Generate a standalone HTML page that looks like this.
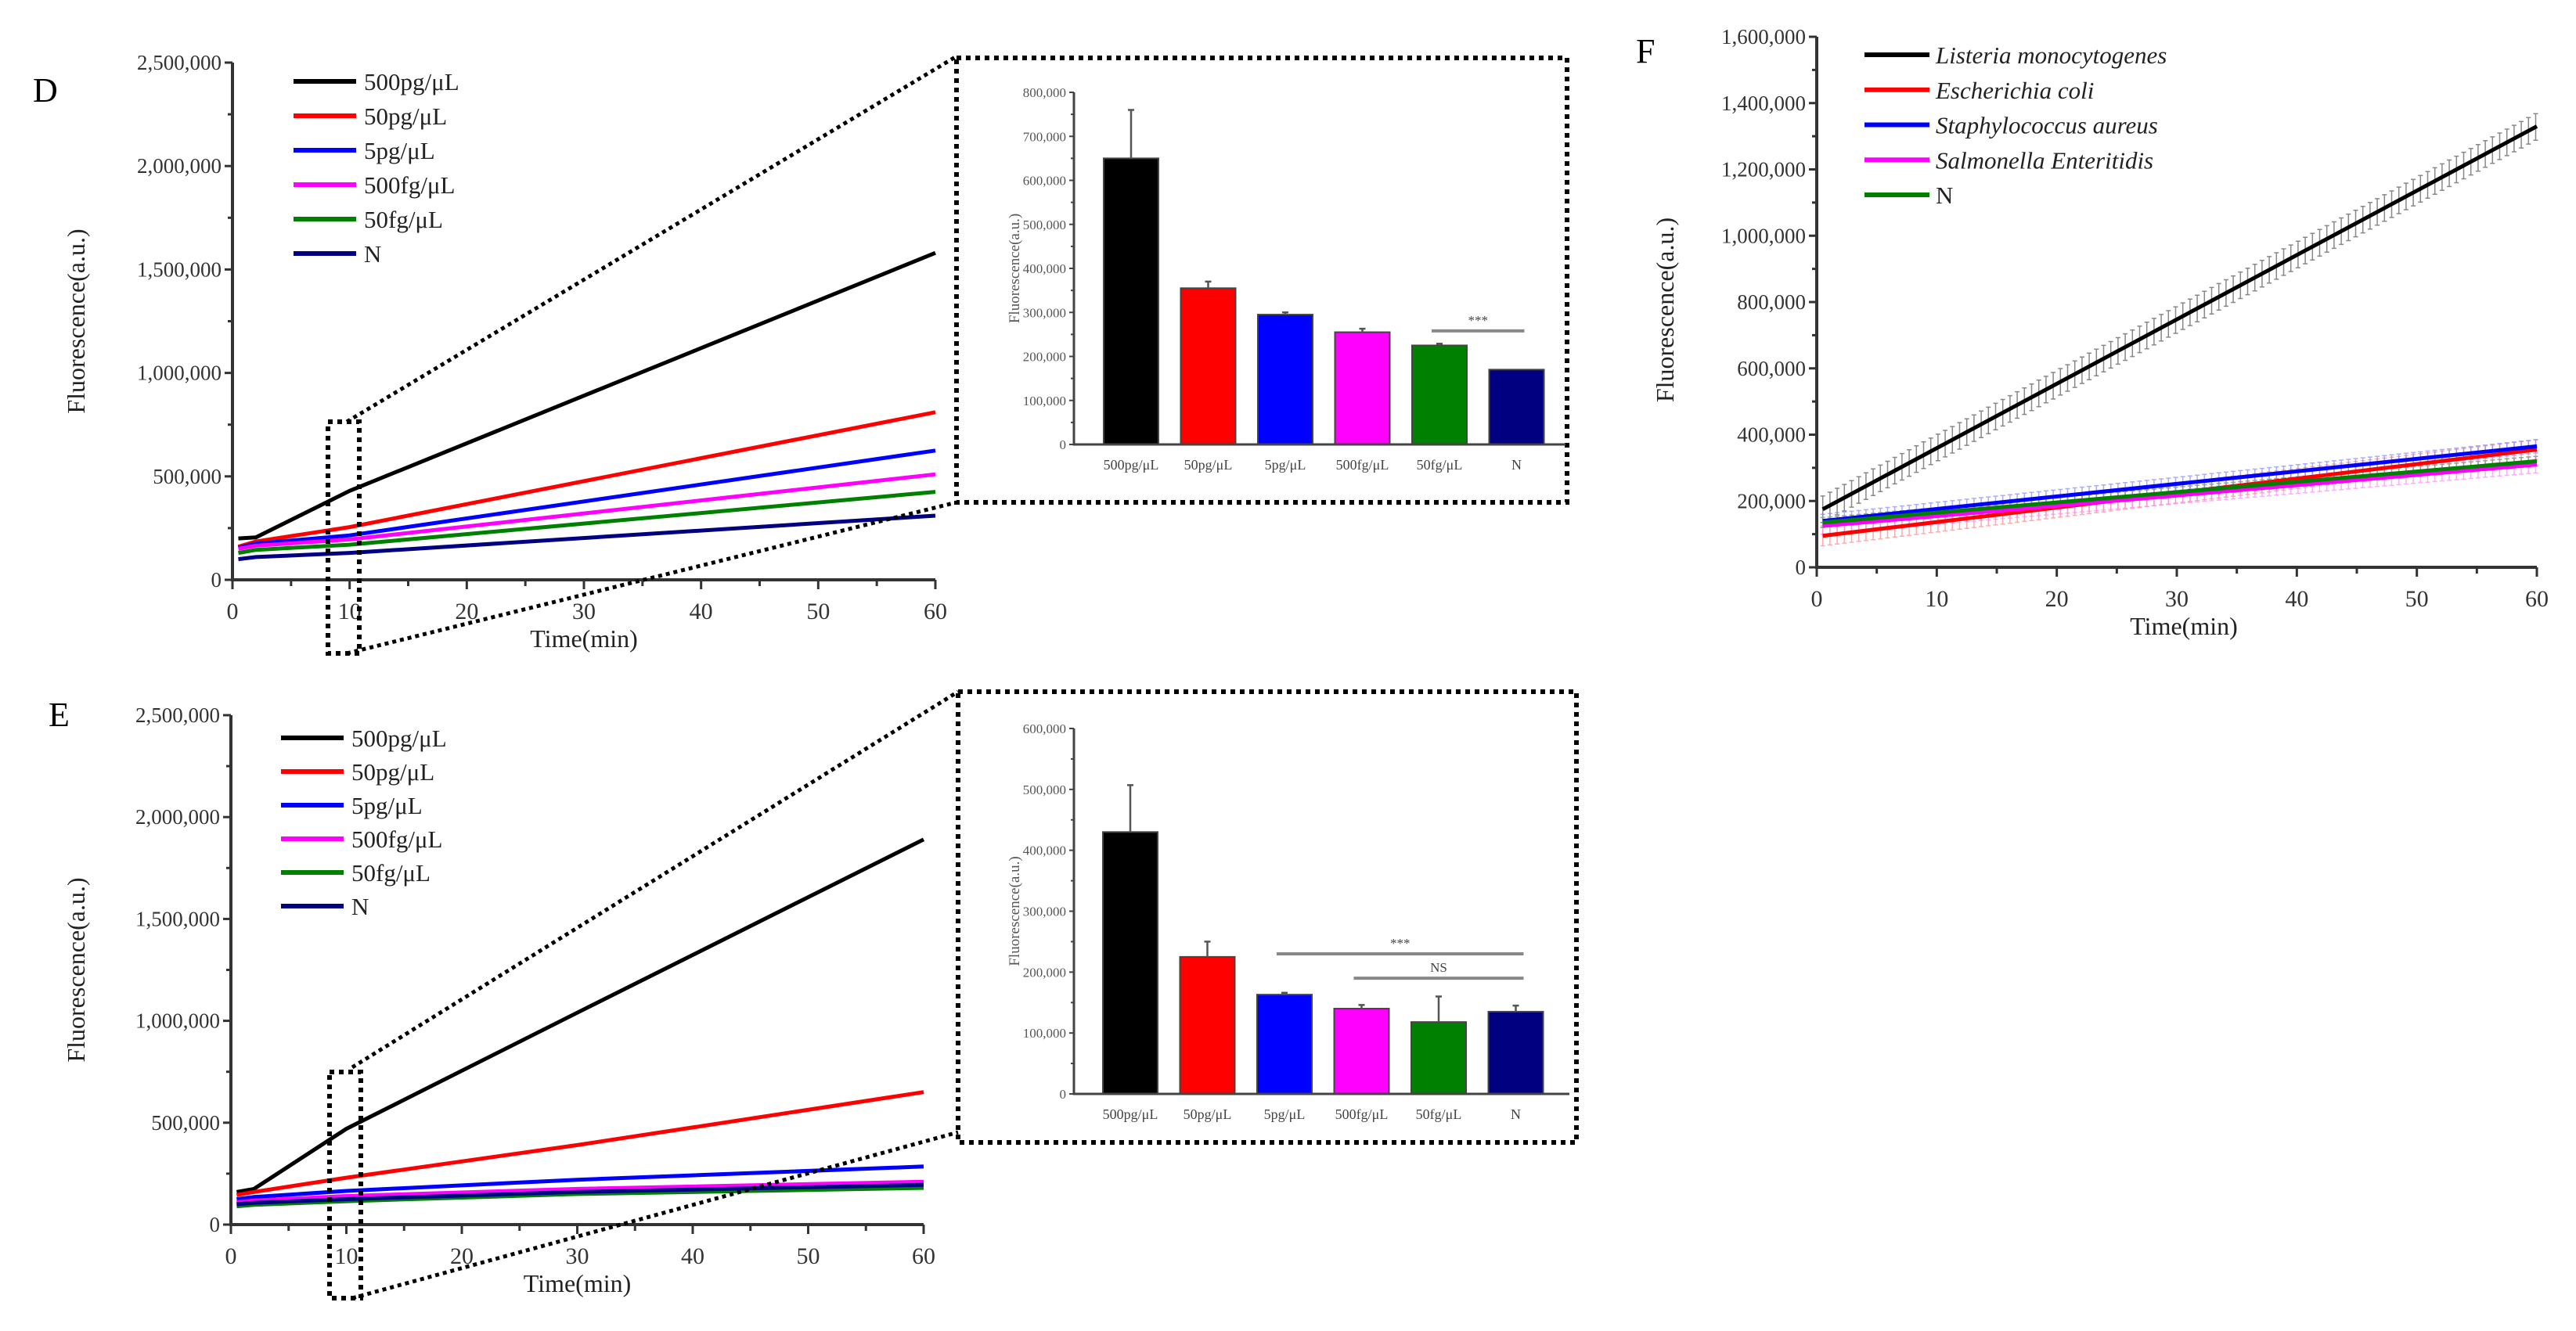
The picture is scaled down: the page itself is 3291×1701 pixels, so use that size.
<!DOCTYPE html>
<html><head><meta charset="utf-8"><style>
html,body{margin:0;padding:0;background:#fff;}
svg{display:block;font-family:"Liberation Serif",serif;}
</style></head><body>
<svg id="fig" width="3291" height="1701" viewBox="0 0 3291 1701" xmlns="http://www.w3.org/2000/svg">
<rect width="3291" height="1701" fill="#fff"/>
<text x="42" y="130" font-size="44">D</text>
<text x="62" y="928" font-size="44">E</text>
<text x="2090" y="80" font-size="44">F</text>
</svg>
<script>
const seriesNames = ["500pg/μL","50pg/μL","5pg/μL","500fg/μL","50fg/μL","N"];
const seriesColors = ["#000","#f00","#00f","#f0f","#008000","#000080"];
const timeTicks = [0,10,20,30,40,50,60];
const yTicksDE = [0,500000,1000000,1500000,2000000,2500000];
// D line chart
const dTimes = [0.5,2,10,60];
const dBlack = [200000,205000,430000,1580000];
const dRed = [160000,185000,255000,810000];
const dBlue = [155000,175000,215000,625000];
const dMagenta = [150000,165000,195000,510000];
const dGreen = [130000,145000,170000,425000];
const dNavy = [100000,110000,130000,310000];
// E line chart
const eTimes = [0.5,2,10,30,60];
const eBlack = [160000,175000,470000,1040000,1890000];
const eRed = [145000,160000,230000,390000,650000];
const eBlue = [125000,135000,165000,220000,285000];
const eMagenta = [110000,118000,140000,175000,210000];
const eGreen = [90000,97000,115000,150000,180000];
const eNavy = [100000,107000,125000,160000,195000];
// D inset bars
const dBarValues = [650000,355000,295000,255000,225000,170000];
const dBarErr = [110000,15000,5000,8000,4000,0];
const dBarTicks = [0,100000,200000,300000,400000,500000,600000,700000,800000];
// E inset bars
const eBarValues = [430000,225000,163000,140000,118000,135000];
const eBarErr = [77000,25000,3000,6000,42000,10000];
const eBarTicks = [0,100000,200000,300000,400000,500000,600000];
// F
const fNames = ["Listeria monocytogenes","Escherichia coli","Staphylococcus aureus","Salmonella Enteritidis","N"];
const fColors = ["#000","#f00","#00f","#f0f","#008000"];
const fStart = [175000,95000,140000,125000,135000];
const fEnd = [1330000,355000,365000,310000,320000];
const fErr = [40000,30000,20000,25000,15000];
const fTicks = [0,200000,400000,600000,800000,1000000,1200000,1400000,1600000];

const NS="http://www.w3.org/2000/svg";
const svg=document.getElementById('fig');
function el(tag,attrs,parent,txt){const e=document.createElementNS(NS,tag);for(const k in attrs)e.setAttribute(k,attrs[k]);if(txt!==undefined)e.textContent=txt;(parent||svg).appendChild(e);return e;}
function fmt(v){return v.toLocaleString('en-US');}

function lineChart(cfg){
  const g=el('g',{});
  
  
  const xs=v=>cfg.x0+(v/60)*(cfg.x1-cfg.x0);
  const ys=v=>cfg.y0-(v/cfg.ymax)*(cfg.y0-cfg.y1);
  cfg.series.forEach((s,i)=>{
    const d=s.map((v,j)=>(j?'L':'M')+xs(cfg.times[j]).toFixed(1)+','+ys(v).toFixed(1)).join(' ');
    const p=el('path',{d:d,fill:'none',stroke:cfg.colors[i],'stroke-width':5},g);
    
    
  });
  const ax=el('path',{d:`M${cfg.x0},${cfg.y1} L${cfg.x0},${cfg.y0} L${cfg.x1},${cfg.y0}`,fill:'none',stroke:'#333','stroke-width':4},g);
  
  
  cfg.yticks.forEach((t,i)=>{
    const y=ys(t);
    el('line',{x1:cfg.x0-10,x2:cfg.x0,y1:y,y2:y,stroke:'#333','stroke-width':3},g);
    if(i<cfg.yticks.length-1){const y2=ys((t+cfg.yticks[i+1])/2);el('line',{x1:cfg.x0-6,x2:cfg.x0,y1:y2,y2:y2,stroke:'#333','stroke-width':3},g);}
    const tx=el('text',{x:cfg.x0-14,y:y+9,'font-size':27,'text-anchor':'end',fill:'#333'},g,fmt(t));
    
    
  });
  timeTicks.forEach((t,i)=>{
    const x=xs(t);
    el('line',{x1:x,x2:x,y1:cfg.y0,y2:cfg.y0+12,stroke:'#333','stroke-width':3},g);
    if(i<timeTicks.length-1){const x2=xs(t+5);el('line',{x1:x2,x2:x2,y1:cfg.y0,y2:cfg.y0+8,stroke:'#333','stroke-width':3},g);}
    const tx=el('text',{x:x,y:cfg.y0+50,'font-size':30,'text-anchor':'middle',fill:'#333'},g,String(t));
    
    
  });
  const xt=el('text',{x:(cfg.x0+cfg.x1)/2,y:cfg.y0+86,'font-size':32,'text-anchor':'middle',fill:'#222'},g,'Time(min)');
  
  
  const yt=el('text',{x:0,y:0,'font-size':32,'text-anchor':'middle',fill:'#222',transform:`translate(${cfg.ytx},${(cfg.y0+cfg.y1)/2}) rotate(-90)`},g,'Fluorescence(a.u.)');
  
  
  cfg.labels.forEach((n,i)=>{
    const y=cfg.legY+i*cfg.legDy;
    const lg=el('g',{},g);
    
    
    el('line',{x1:cfg.legX,x2:cfg.legX+80,y1:y,y2:y,stroke:cfg.colors[i],'stroke-width':6},lg);
    el('text',{x:cfg.legX+90,y:y+11,'font-size':31,fill:'#222','font-style':cfg.italic&&n!=='N'?'italic':'normal'},lg,n);
  });
  return {xs,ys,g};
}

function barChart(cfg){
  const g=el('g',{});
  
  
  const ys=v=>cfg.y0-(v/cfg.ymax)*(cfg.y0-cfg.y1);
  cfg.values.forEach((v,i)=>{
    const cx=cfg.bx0+i*cfg.step;
    const b=el('rect',{x:cx-35,y:ys(v),width:70,height:cfg.y0-ys(v),fill:seriesColors[i],stroke:'#444','stroke-width':2},g);
    
    
    if(cfg.err[i]>0){
      const eb=el('path',{d:`M${cx},${ys(v)} L${cx},${ys(v+cfg.err[i])} M${cx-4},${ys(v+cfg.err[i])} L${cx+4},${ys(v+cfg.err[i])}`,stroke:'#555','stroke-width':2.5,fill:'none'},g);
      
      
    }
    const tx=el('text',{x:cx,y:cfg.y0+32,'font-size':18,'text-anchor':'middle',fill:'#444'},g,seriesNames[i]);
    
    
  });
  el('path',{d:`M${cfg.x0},${cfg.y1} L${cfg.x0},${cfg.y0} L${cfg.x1},${cfg.y0}`,fill:'none',stroke:'#444','stroke-width':3},g);
  cfg.ticks.forEach((t,i)=>{
    const y=ys(t);
    el('line',{x1:cfg.x0-6,x2:cfg.x0,y1:y,y2:y,stroke:'#444','stroke-width':2},g);
    if(i<cfg.ticks.length-1){const y2=ys(t+(cfg.ticks[1]-cfg.ticks[0])/2);el('line',{x1:cfg.x0-4,x2:cfg.x0,y1:y2,y2:y2,stroke:'#444','stroke-width':2},g);}
    const tx=el('text',{x:cfg.x0-10,y:y+6,'font-size':17,'text-anchor':'end',fill:'#555'},g,fmt(t));
    
    
  });
  const yt=el('text',{'font-size':19,'text-anchor':'middle',fill:'#555',transform:`translate(${cfg.x0-70},${(cfg.y0+cfg.y1)/2}) rotate(-90)`},g,'Fluorescence(a.u.)');
  
  
  cfg.sig.forEach(s=>{
    const xa=cfg.bx0+s.from*cfg.step-10, xb=cfg.bx0+s.to*cfg.step+10, y=ys(s.v);
    const l=el('line',{x1:xa,x2:xb,y1:y,y2:y,stroke:'#888','stroke-width':4},g);
    
    
    el('text',{x:(xa+xb)/2,y:y-8,'font-size':17,'text-anchor':'middle',fill:'#444'},g,s.t);
  });
  return g;
}

function dotted(x1,y1,x2,y2,name){
  const l=el('line',{x1,y1,x2,y2,stroke:'#000','stroke-width':5,'stroke-dasharray':'5 5'});
  
  
}
function dottedRect(x,y,w,h,name){
  const r=el('rect',{x,y,width:w,height:h,fill:'none',stroke:'#000','stroke-width':6,'stroke-dasharray':'6 6'});
  
  
}

lineChart({name:'panel-d-line-chart',x0:297,x1:1195,y0:741,y1:80,ymax:2500000,times:dTimes,
  series:[dBlack,dRed,dBlue,dMagenta,dGreen,dNavy],colors:seriesColors,labels:seriesNames,yticks:yTicksDE,
  ytx:108,legX:375,legY:104,legDy:44});
lineChart({name:'panel-e-line-chart',x0:295,x1:1180,y0:1565,y1:914,ymax:2500000,times:eTimes,
  series:[eBlack,eRed,eBlue,eMagenta,eGreen,eNavy],colors:seriesColors,labels:seriesNames,yticks:yTicksDE,
  ytx:108,legX:359,legY:943,legDy:43});

dottedRect(419,539,40,296,'zoom-region-d');
dotted(443,539,1222,72,'zoom-line-top-d');
dotted(443,835,1222,642,'zoom-line-bottom-d');
dottedRect(1222,74,780,568,'inset-frame-d');
barChart({name:'panel-d-inset-bars',x0:1372,x1:2000,y0:568,y1:118,ymax:800000,bx0:1445,step:98.5,
  values:dBarValues,err:dBarErr,ticks:dBarTicks,sig:[{from:4,to:5,v:258000,t:'***'}]});

dottedRect(421,1370,40,289,'zoom-region-e');
dotted(450,1364,1224,884,'zoom-line-top-e');
dotted(450,1659,1224,1447,'zoom-line-bottom-e');
dottedRect(1224,884,790,576,'inset-frame-e');
barChart({name:'panel-e-inset-bars',x0:1372,x1:2005,y0:1398,y1:931,ymax:600000,bx0:1444,step:98.5,
  values:eBarValues,err:eBarErr,ticks:eBarTicks,sig:[{from:2,to:5,v:230000,t:'***'},{from:3,to:5,v:190000,t:'NS'}]});

(function(){
  const x0=2321,x1=3241,y0=725,y1=47,ymax=1600000;
  const xs=v=>x0+(v/60)*(x1-x0), ys=v=>y0-(v/ymax)*(y0-y1);
  const g=el('g',{});
  
  
  const light=['#555','#f88','#88f','#f8f','#6a6'];
  fStart.forEach((s,i)=>{
    const eg=el('g',{opacity:0.7},g);
    
    
    let d='';
    for(let t=0.5;t<=60;t+=0.6){
      const v=s+(fEnd[i]-s)*(t-0.5)/59.5;
      const x=xs(t);
      d+=`M${x.toFixed(1)},${ys(v+fErr[i]).toFixed(1)} L${x.toFixed(1)},${ys(v-fErr[i]).toFixed(1)} M${(x-3).toFixed(1)},${ys(v+fErr[i]).toFixed(1)} L${(x+3).toFixed(1)},${ys(v+fErr[i]).toFixed(1)} M${(x-3).toFixed(1)},${ys(v-fErr[i]).toFixed(1)} L${(x+3).toFixed(1)},${ys(v-fErr[i]).toFixed(1)} `;
    }
    el('path',{d,stroke:light[i],'stroke-width':1.5,fill:'none'},eg);
  });
  fStart.forEach((s,i)=>{
    const p=el('path',{d:`M${xs(0.5)},${ys(s)} L${xs(60)},${ys(fEnd[i])}`,stroke:fColors[i],'stroke-width':5,fill:'none'},g);
    
    
  });
  el('path',{d:`M${x0},${y1} L${x0},${y0} L${x1},${y0}`,fill:'none',stroke:'#333','stroke-width':4},g);
  fTicks.forEach((t,i)=>{
    const y=ys(t);
    el('line',{x1:x0-10,x2:x0,y1:y,y2:y,stroke:'#333','stroke-width':3},g);
    if(i<fTicks.length-1){const y2=ys(t+100000);el('line',{x1:x0-6,x2:x0,y1:y2,y2:y2,stroke:'#333','stroke-width':3},g);}
    const tx=el('text',{x:x0-14,y:y+9,'font-size':27,'text-anchor':'end',fill:'#333'},g,fmt(t));
    
    
  });
  timeTicks.forEach((t,i)=>{
    const x=xs(t);
    el('line',{x1:x,x2:x,y1:y0,y2:y0+12,stroke:'#333','stroke-width':3},g);
    if(i<timeTicks.length-1){const x2=xs(t+5);el('line',{x1:x2,x2:x2,y1:y0,y2:y0+8,stroke:'#333','stroke-width':3},g);}
    const tx=el('text',{x:x,y:y0+50,'font-size':30,'text-anchor':'middle',fill:'#333'},g,String(t));
    
    
  });
  const xt=el('text',{x:2790,y:811,'font-size':32,'text-anchor':'middle',fill:'#222'},g,'Time(min)');
  
  
  const yt=el('text',{'font-size':32,'text-anchor':'middle',fill:'#222',transform:`translate(2138,396) rotate(-90)`},g,'Fluorescence(a.u.)');
  
  
  fNames.forEach((n,i)=>{
    const y=70+i*44.75;
    const lg=el('g',{},g);
    
    
    el('line',{x1:2382,x2:2465,y1:y,y2:y,stroke:fColors[i],'stroke-width':6},lg);
    el('text',{x:2473,y:y+11,'font-size':31,fill:'#222','font-style':n==='N'?'normal':'italic'},lg,n);
  });
})();
</script>
</body></html>
